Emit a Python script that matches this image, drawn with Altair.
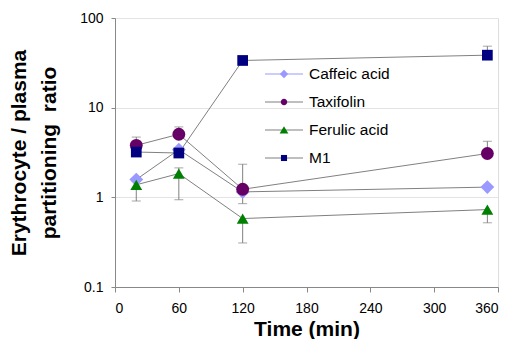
import altair as alt
import pandas as pd

series = ["Caffeic acid", "Taxifolin", "Ferulic acid", "M1"]
colors = ["#9999FF", "#660066", "#008000", "#000080"]
legend_line_colors = ["#9999FF", "#808080", "#808080", "#808080"]
shapes = ["diamond", "circle", "triangle-up", "square"]
sizes = [190, 115, 230, 120]
times = [20, 60, 120, 350]

values = {
    "Caffeic acid": [1.58, 3.4, 1.15, 1.30],
    "Taxifolin": [3.8, 5.05, 1.23, 3.08],
    "Ferulic acid": [1.38, 1.84, 0.58, 0.73],
    "M1": [3.2, 3.12, 33.6, 38.5],
}
err_hi = {
    "Caffeic acid": [None, None, None, None],
    "Taxifolin": [4.7, 6.1, 2.34, 4.22],
    "Ferulic acid": [None, 2.13, None, None],
    "M1": [None, None, None, 48.5],
}
err_lo = {
    "Caffeic acid": [None, None, None, None],
    "Taxifolin": [None, None, 0.85, None],
    "Ferulic acid": [0.91, 0.94, 0.31, 0.52],
    "M1": [None, None, None, None],
}

# legend symbols (unit box -1..1): a short line, and the series marker on top of it
LINE = "M-1,-0.03H1V0.03H-1Z"
marker_paths = [
    "M0,-0.22L0.22,0L0,0.22L-0.22,0Z",
    "M-0.17,0A0.17,0.17 0 1,0 0.17,0A0.17,0.17 0 1,0 -0.17,0Z",
    "M0,-0.2L0.23,0.18L-0.23,0.18Z",
    "M-0.16,-0.16H0.16V0.16H-0.16Z",
]

rows = []
for s in series:
    for i, t in enumerate(times):
        rows.append({"series": s, "legA": s, "legB": s, "time": t, "value": values[s][i],
                     "hi": err_hi[s][i], "lo": err_lo[s][i]})
df = pd.DataFrame(rows)

FONT = "Liberation Sans"
GRAY = "#808080"

base = alt.Chart(df)
x = alt.X("time:Q", scale=alt.Scale(domain=[0, 360], nice=False),
          axis=alt.Axis(values=[0, 60, 120, 180, 240, 300, 360], title="Time (min)",
                        grid=False, tickSize=5, labelPadding=9, labelFontSize=14,
                        titleFontSize=21, titleFontWeight="bold", titlePadding=3))
y = alt.Y("value:Q", scale=alt.Scale(type="log", domain=[0.1, 100], nice=False),
          axis=alt.Axis(values=[0.1, 1, 10, 100], format="~g",
                        title=["Erythrocyte / plasma", "partitioning\u00a0 ratio"],
                        grid=True, gridColor="#e3e3e3", tickSize=4, labelPadding=8,
                        labelFontSize=14, titleFontSize=21, titleFontWeight="bold",
                        titleLineHeight=30, titlePadding=20))

err_up = base.transform_filter("isValid(datum.hi)").mark_rule(color=GRAY, strokeWidth=1).encode(
    x=x, y=y, y2="hi:Q")
cap_up = base.transform_filter("isValid(datum.hi)").mark_tick(color=GRAY, thickness=1, size=9, orient="horizontal").encode(
    x="time:Q", y="hi:Q")
err_dn = base.transform_filter("isValid(datum.lo)").mark_rule(color=GRAY, strokeWidth=1).encode(
    x=x, y=y, y2="lo:Q")
cap_dn = base.transform_filter("isValid(datum.lo)").mark_tick(color=GRAY, thickness=1, size=9, orient="horizontal").encode(
    x="time:Q", y="lo:Q")

lines = base.mark_line(color=GRAY, strokeWidth=1).encode(
    x=x, y=y, detail="series:N", order="time:Q")

points = base.mark_point(filled=True, opacity=1).encode(
    x=x, y=y,
    color=alt.Color("series:N", scale=alt.Scale(domain=series, range=colors), legend=None),
    shape=alt.Shape("series:N", scale=alt.Scale(domain=series, range=shapes), legend=None),
    size=alt.Size("series:N", scale=alt.Scale(domain=series, range=sizes), legend=None),
)

common = dict(orient="none", legendX=150, legendY=37, title=None,
              symbolSize=1444, symbolStrokeWidth=0, labelFontSize=15.5,
              labelFont=FONT, labelColor="black", labelOffset=6,
              padding=0, rowPadding=-12.5)

leg_lines = base.transform_filter("false").mark_point(filled=True, opacity=1, strokeWidth=0).encode(
    fill=alt.Fill("legA:N", scale=alt.Scale(domain=series, range=legend_line_colors),
                  legend=alt.Legend(symbolType=LINE, **common)),
)
leg_marks = base.transform_filter("false").mark_point(filled=True, opacity=1, strokeWidth=0).encode(
    fill=alt.Fill("legB:N", scale=alt.Scale(domain=series, range=colors),
                  legend=alt.Legend(labelOpacity=0, **common)),
    shape=alt.Shape("legB:N", scale=alt.Scale(domain=series, range=marker_paths),
                    legend=alt.Legend(labelOpacity=0, **common)),
)

chart = alt.layer(err_up, cap_up, err_dn, cap_dn, lines, points, leg_lines, leg_marks).resolve_scale(
    shape="independent", fill="independent"
).properties(
    width=383, height=269,
    autosize=alt.AutoSizeParams(type="none"),
    padding={"left": 107, "top": 10, "right": 6, "bottom": 52},
).configure_view(stroke=GRAY, strokeWidth=1).configure_axis(
    labelFont=FONT, titleFont=FONT, labelColor="black", titleColor="black",
    domainColor=GRAY, tickColor=GRAY,
).configure(background="white")

chart.save("out.html", embed_options={"renderer": "svg", "actions": False})
